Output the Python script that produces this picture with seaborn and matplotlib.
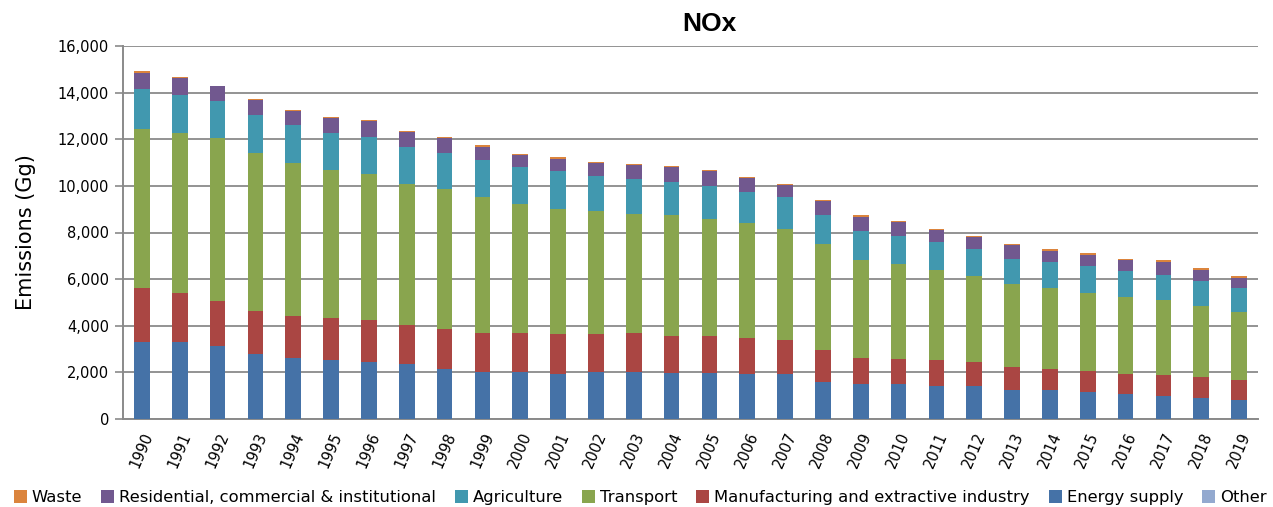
import numpy as np
import pandas as pd
import matplotlib
matplotlib.use("Agg")
import matplotlib.pyplot as plt
from matplotlib.patches import Patch
import seaborn as sns

years = [str(y) for y in range(1990, 2020)]

energy_supply = [3324, 3282, 3124, 2809, 2637, 2522, 2465, 2350, 2164, 2035,
                 2006, 1949, 2035, 2035, 1992, 1992, 1949, 1920, 1605, 1519,
                 1490, 1433, 1433, 1261, 1232, 1146, 1060, 974, 917, 802]
manufacturing = [2279, 2106, 1920, 1805, 1762, 1791, 1762, 1662, 1676, 1633,
                 1662, 1676, 1590, 1633, 1548, 1548, 1505, 1448, 1376, 1118,
                 1104, 1118, 1032, 989, 932, 932, 889, 932, 903, 889]
transport = [6835, 6878, 7008, 6793, 6578, 6363, 6277, 6062, 6019, 5847,
             5546, 5374, 5288, 5116, 5201, 5029, 4943, 4771, 4514, 4170,
             4041, 3826, 3654, 3525, 3439, 3310, 3267, 3181, 3009, 2880]
agriculture = [1720, 1634, 1590, 1633, 1633, 1590, 1591, 1591, 1548, 1591,
               1591, 1634, 1505, 1505, 1419, 1419, 1333, 1376, 1246, 1246,
               1204, 1204, 1161, 1075, 1118, 1161, 1118, 1075, 1075, 1032]
residential = [688, 745, 645, 645, 602, 660, 687, 659, 645, 573,
               516, 516, 559, 602, 645, 645, 602, 516, 602, 602,
               601, 515, 516, 602, 473, 473, 473, 559, 473, 430]
waste = [86, 29, 14, 43, 43, 43, 43, 43, 43, 72,
         43, 86, 43, 43, 43, 43, 43, 43, 43, 86,
         43, 43, 43, 43, 86, 86, 43, 86, 86, 86]
other = [0] * 30

# bottom-to-top stacking order
sectors = [
    ("Other", other, "#93A9CF"),
    ("Energy supply", energy_supply, "#4572A7"),
    ("Manufacturing and extractive industry", manufacturing, "#AA4643"),
    ("Transport", transport, "#89A54E"),
    ("Agriculture", agriculture, "#4198AF"),
    ("Residential, commercial & institutional", residential, "#71588F"),
    ("Waste", waste, "#DB843D"),
]
legend_order = ["Waste", "Residential, commercial & institutional", "Agriculture",
                "Transport", "Manufacturing and extractive industry",
                "Energy supply", "Other"]

df = pd.DataFrame({name: vals for name, vals, _ in sectors})
cum = df[[s[0] for s in sectors]].cumsum(axis=1)
cum["year"] = years

sns.set_theme(style="white")
plt.rcParams["font.family"] = ["DejaVu Sans"]
plt.rcParams["text.color"] = "black"
plt.rcParams["xtick.color"] = "black"
plt.rcParams["ytick.color"] = "black"
plt.rcParams["axes.labelcolor"] = "black"

fig = plt.figure(figsize=(12.73, 5.07), dpi=100)
ax = fig.add_axes([123 / 1273, 1 - 419 / 507, (1258 - 123) / 1273, (419 - 46) / 507])

# draw cumulative totals from the top layer down so each layer shows its own slice
for name, _, color in reversed(sectors):
    sns.barplot(data=cum, x="year", y=name, color=color, saturation=1,
                width=0.41, ax=ax, errorbar=None, linewidth=0, zorder=3)

ax.set_xlim(-0.5, len(years) - 0.5)
ax.set_ylim(0, 16000)
ax.set_yticks(np.arange(0, 16001, 2000))
ax.set_yticklabels([f"{v:,}" for v in range(0, 16001, 2000)], fontsize=10.5)
ax.yaxis.grid(True, color="#8a8a8a", linewidth=1.3, zorder=0)
ax.set_axisbelow(True)

ax.set_xticks(range(len(years)))
ax.set_xticklabels(years, rotation=67, ha="right", rotation_mode="anchor", fontsize=10.5)
ax.set_xticks(np.arange(-0.5, len(years), 1), minor=True)
ax.tick_params(axis="x", which="major", length=0, pad=8, colors="black")
ax.tick_params(axis="x", which="minor", length=5, width=1.2, color="#8a8a8a", direction="out")
ax.tick_params(axis="y", which="major", length=6, width=1.2, color="#8a8a8a",
               labelcolor="black", direction="out", left=True, pad=4)

ax.set_xlabel("")
ax.set_ylabel("Emissions (Gg)", fontsize=15, labelpad=16, color="black")
ax.set_title("NOx", fontsize=19, fontweight="bold", pad=11, color="black", x=0.517,
             family=["Liberation Sans", "DejaVu Sans"])

for side in ["top", "right"]:
    ax.spines[side].set_visible(False)
for side in ["left", "bottom"]:
    ax.spines[side].set_color("#8a8a8a")
    ax.spines[side].set_linewidth(1.4)

colors = {name: color for name, _, color in sectors}
handles = [Patch(facecolor=colors[n], edgecolor="none", label=n) for n in legend_order]
fig.legend(handles=handles, loc="lower center", bbox_to_anchor=(0.503, -0.026), ncol=7,
           frameon=False, fontsize=11.8, handlelength=0.8, handleheight=0.8,
           handletextpad=0.3, columnspacing=1.15, labelcolor="black")

fig.savefig("out.png", dpi=100)
